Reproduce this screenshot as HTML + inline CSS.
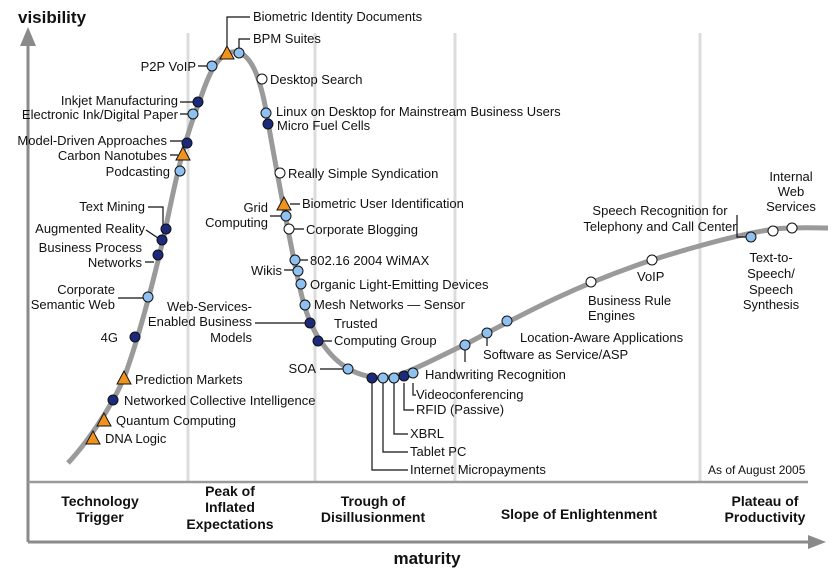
<!DOCTYPE html>
<html><head><meta charset="utf-8"><style>
body{margin:0;background:#fff}
svg{display:block}
text{font-family:"Liberation Sans",Arial,sans-serif;font-size:13px;fill:#111}
.b{font-weight:bold;font-size:14px}
.ax{font-weight:bold;font-size:17px}
.r{text-anchor:end}.c{text-anchor:middle}
.L{fill:#8fc1f0;stroke:#111;stroke-width:1}
.D{fill:#1b2a7a;stroke:#111;stroke-width:1}
.W{fill:#fff;stroke:#111;stroke-width:1}
.T{fill:#f0921e;stroke:#111;stroke-width:1}
.ld{stroke:#111;stroke-width:1.2;fill:none}
</style></head><body>
<svg width="835" height="571" viewBox="0 0 835 571">
<g stroke="#dcdcdc" stroke-width="3">
<line x1="188" y1="33" x2="188" y2="482"/><line x1="315" y1="33" x2="315" y2="482"/>
<line x1="455" y1="33" x2="455" y2="482"/><line x1="700" y1="33" x2="700" y2="482"/>
</g>
<line x1="28" y1="42" x2="28" y2="542" stroke="#8a8a8a" stroke-width="3"/>
<polygon points="28,27 20,46 36,46" fill="#8a8a8a"/>
<line x1="28" y1="482" x2="808" y2="482" stroke="#9a9a9a" stroke-width="2.5"/>
<line x1="28" y1="542" x2="812" y2="542" stroke="#8a8a8a" stroke-width="3"/>
<polygon points="826,542 808,535 808,549" fill="#8a8a8a"/>
<path d="M68,463 C85,445 110,410 124,378 C138,340 150,295 163,240 C172,200 180,150 200,100 C210,70 218,55 232,52 C248,50 258,70 265,105 C272,145 282,200 292,250 C300,290 305,320 322,343 C335,362 352,376 380,378 C400,378 420,366 470,342 C530,310 580,284 652,260 C700,245 745,233 775,229 C795,227 815,228 828,228" fill="none" stroke="#9a9a9a" stroke-width="5"/>
<text x="18" y="23" class="ax">visibility</text>
<text x="427" y="564" class="ax c">maturity</text>
<g class="b">
<text x="100" y="506" class="b c">Technology</text><text x="100" y="522" class="b c">Trigger</text>
<text x="230" y="496" class="b c">Peak of</text><text x="230" y="512" class="b c">Inflated</text><text x="230" y="529" class="b c">Expectations</text>
<text x="373" y="506" class="b c">Trough of</text><text x="373" y="522" class="b c">Disillusionment</text>
<text x="579" y="519" class="b c">Slope of Enlightenment</text>
<text x="765" y="506" class="b c">Plateau of</text><text x="765" y="522" class="b c">Productivity</text>
</g>
<text x="708" y="474" style="font-size:12px">As of August 2005</text>

<path class="ld" d="M227,50 V17 H250 M239,50 V39 H250 M198,66 H207 M180,102 H193 M180,114 H188 M170,141 H182 M170,155 H178 M148,207 H163 V229 M146,230 L158,238 M145,262 H154 M118,298 H143 M270,216 H281 M290,204 H300 M294,229 H304 M300,260 H308 M284,270 H293 M255,323 H305 M323,341 H332 M320,369 H343
M372,383 V470 H408 M383,383 V452 H408 M394,383 V434 H408 M404,383 V410 H414 M413,383 V395 H416 M465,350 V362 M487,338 V346 M737,215 V237 H746"/>

<polygon class="T" points="227,46 220,59 234,59"/>
<circle class="L" cx="239" cy="53" r="5"/>
<circle class="L" cx="212" cy="66" r="5"/>
<circle class="W" cx="262" cy="79" r="5"/>
<circle class="D" cx="198" cy="102" r="5"/>
<circle class="L" cx="193" cy="114" r="5"/>
<circle class="L" cx="266" cy="113" r="5"/>
<circle class="D" cx="268" cy="124" r="5"/>
<circle class="D" cx="187" cy="143" r="5"/>
<polygon class="T" points="183,147 176,160 190,160"/>
<circle class="L" cx="180" cy="171" r="5"/>
<circle class="W" cx="280" cy="173" r="5"/>
<circle class="D" cx="166" cy="229" r="5"/>
<circle class="D" cx="162" cy="240" r="5"/>
<circle class="D" cx="158" cy="255" r="5"/>
<polygon class="T" points="284,197 277,210 291,210"/>
<circle class="L" cx="286" cy="216" r="5"/>
<circle class="W" cx="289" cy="229" r="5"/>
<circle class="L" cx="295" cy="260" r="5"/>
<circle class="L" cx="298" cy="271" r="5"/>
<circle class="L" cx="301" cy="284" r="5"/>
<circle class="L" cx="148" cy="297" r="5"/>
<circle class="L" cx="305" cy="305" r="5"/>
<circle class="D" cx="310" cy="323" r="5"/>
<circle class="D" cx="318" cy="341" r="5"/>
<circle class="D" cx="135" cy="337" r="5"/>
<circle class="L" cx="348" cy="369" r="5"/>
<circle class="D" cx="372" cy="378" r="5"/>
<circle class="L" cx="383" cy="378" r="5"/>
<circle class="L" cx="394" cy="378" r="5"/>
<circle class="D" cx="404" cy="376" r="5"/>
<circle class="L" cx="413" cy="373" r="5"/>
<circle class="L" cx="465" cy="345" r="5"/>
<circle class="L" cx="487" cy="333" r="5"/>
<circle class="L" cx="507" cy="321" r="5"/>
<circle class="W" cx="591" cy="282" r="5"/>
<circle class="W" cx="652" cy="260" r="5"/>
<circle class="L" cx="751" cy="237" r="5"/>
<circle class="W" cx="773" cy="231" r="5"/>
<circle class="W" cx="792" cy="228" r="5"/>
<polygon class="T" points="124,371 117,384 131,384"/>
<circle class="D" cx="113" cy="400" r="5"/>
<polygon class="T" points="104,413 97,426 111,426"/>
<polygon class="T" points="93,431 86,444 100,444"/>

<text x="253" y="21">Biometric Identity Documents</text>
<text x="253" y="43">BPM Suites</text>
<text x="196" y="71" class="r">P2P VoIP</text>
<text x="270" y="84">Desktop Search</text>
<text x="178" y="105" class="r">Inkjet Manufacturing</text>
<text x="178" y="119" class="r">Electronic Ink/Digital Paper</text>
<text x="276" y="116">Linux on Desktop for Mainstream Business Users</text>
<text x="277" y="130">Micro Fuel Cells</text>
<text x="167" y="145" class="r">Model-Driven Approaches</text>
<text x="167" y="160" class="r">Carbon Nanotubes</text>
<text x="170" y="176" class="r">Podcasting</text>
<text x="288" y="178">Really Simple Syndication</text>
<text x="145" y="211" class="r">Text Mining</text>
<text x="145" y="233" class="r">Augmented Reality</text>
<text x="142" y="252" class="r">Business Process</text>
<text x="142" y="267" class="r">Networks</text>
<text x="302" y="208">Biometric User Identification</text>
<text x="268" y="212" class="r">Grid</text>
<text x="268" y="227" class="r">Computing</text>
<text x="306" y="234">Corporate Blogging</text>
<text x="310" y="265">802.16 2004 WiMAX</text>
<text x="282" y="275" class="r">Wikis</text>
<text x="310" y="289">Organic Light-Emitting Devices</text>
<text x="115" y="294" class="r">Corporate</text>
<text x="115" y="309" class="r">Semantic Web</text>
<text x="314" y="309">Mesh Networks — Sensor</text>
<text x="252" y="311" class="r">Web-Services-</text>
<text x="252" y="326" class="r">Enabled Business</text>
<text x="252" y="342" class="r">Models</text>
<text x="334" y="328">Trusted</text>
<text x="334" y="345">Computing Group</text>
<text x="118" y="342" class="r">4G</text>
<text x="316" y="373" class="r">SOA</text>
<text x="416" y="399">Videoconferencing</text>
<text x="416" y="414">RFID (Passive)</text>
<text x="410" y="438">XBRL</text>
<text x="410" y="456">Tablet PC</text>
<text x="410" y="474">Internet Micropayments</text>
<text x="425" y="379">Handwriting Recognition</text>
<text x="483" y="359">Software as Service/ASP</text>
<text x="520" y="342">Location-Aware Applications</text>
<text x="588" y="305">Business Rule</text>
<text x="588" y="320">Engines</text>
<text x="637" y="281">VoIP</text>
<text x="660" y="215" class="c">Speech Recognition for</text>
<text x="660" y="231" class="c">Telephony and Call Center</text>
<text x="771" y="262" class="c">Text-to-</text>
<text x="771" y="278" class="c">Speech/</text>
<text x="771" y="294" class="c">Speech</text>
<text x="771" y="309" class="c">Synthesis</text>
<text x="791" y="181" class="c">Internal</text>
<text x="791" y="196" class="c">Web</text>
<text x="791" y="211" class="c">Services</text>
<text x="135" y="384">Prediction Markets</text>
<text x="124" y="405">Networked Collective Intelligence</text>
<text x="116" y="425">Quantum Computing</text>
<text x="105" y="443">DNA Logic</text>
</svg>
</body></html>
